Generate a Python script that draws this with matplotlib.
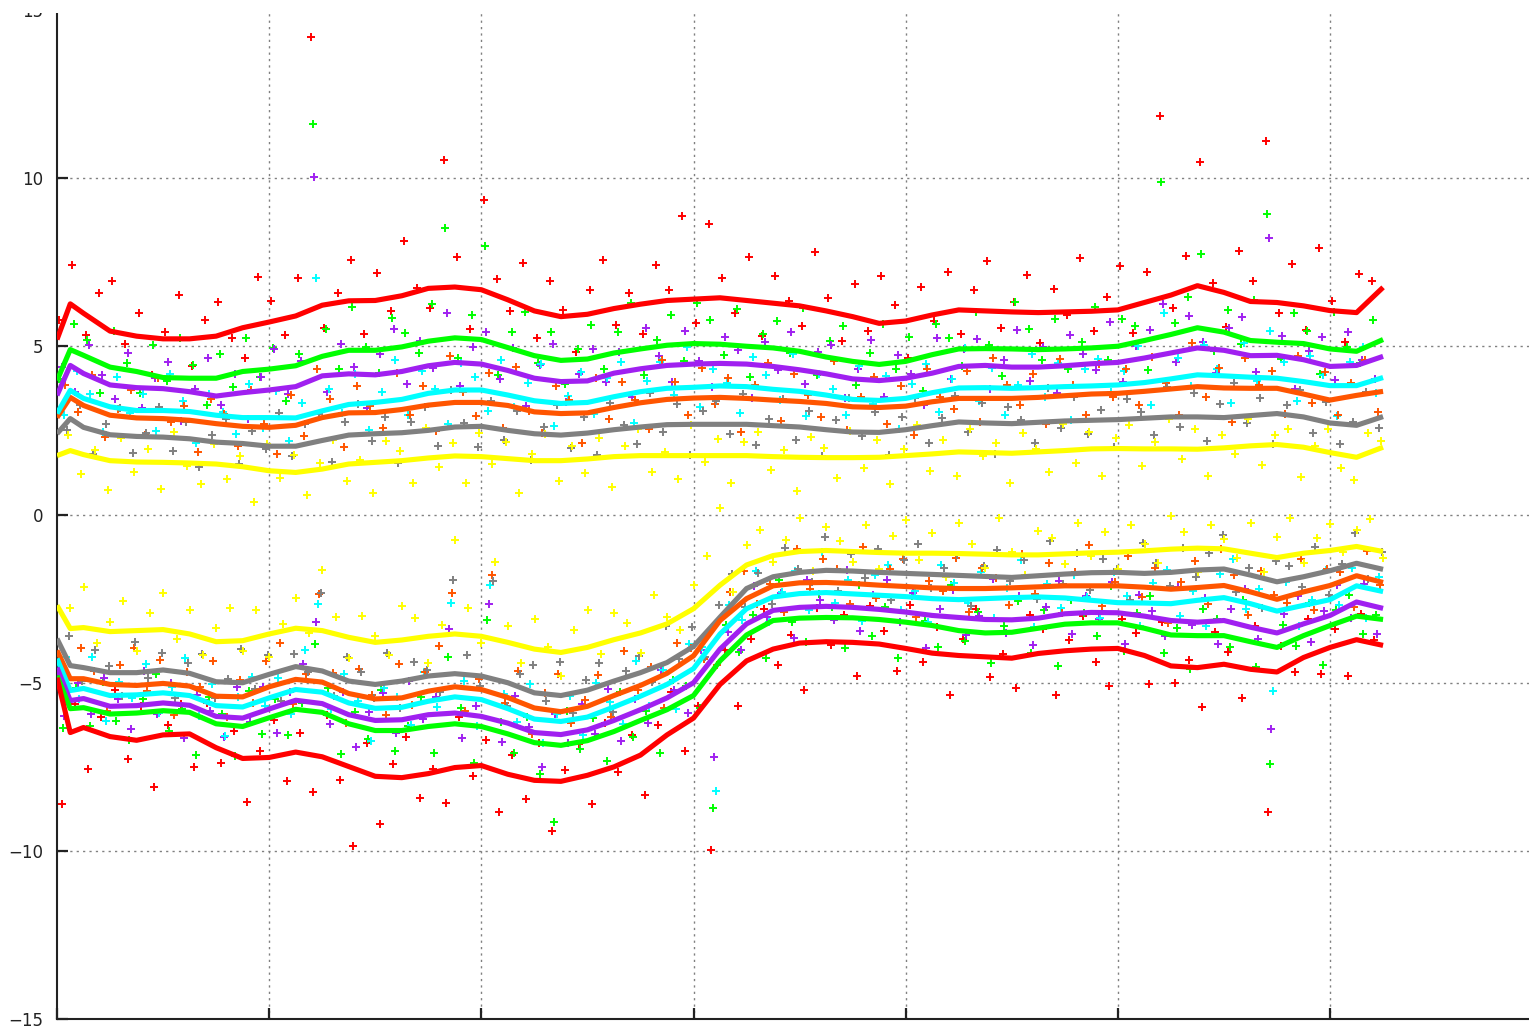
import numpy as np
import matplotlib
matplotlib.use("Agg")
import matplotlib.pyplot as plt
from matplotlib.patches import Rectangle

# ---------------- data ----------------
x_line = np.concatenate(([0.0, 0.0625], np.arange(1, 51) * 0.125))

upper_red = [5.2, 6.26, 5.98, 5.45, 5.3, 5.22, 5.22, 5.3, 5.55, 5.72, 5.9, 6.22, 6.35, 6.36, 6.5, 6.72, 6.76, 6.68,
             6.38, 6.05, 5.88, 5.95, 6.12, 6.25, 6.36, 6.4, 6.44, 6.36, 6.28, 6.2, 6.05, 5.88, 5.68, 5.75, 5.93, 6.08,
             6.05, 6.02, 6.0, 6.02, 6.04, 6.08, 6.3, 6.52, 6.8, 6.6, 6.33, 6.3, 6.2, 6.06, 6.0, 6.75]
upper_green = [3.98, 4.9, 4.73, 4.38, 4.25, 4.07, 4.05, 4.05, 4.25, 4.32, 4.42, 4.7, 4.88, 4.88, 4.98, 5.15, 5.25, 5.2,
               4.96, 4.72, 4.58, 4.62, 4.8, 4.92, 5.03, 5.08, 5.06, 5.0, 4.95, 4.85, 4.68, 4.55, 4.46, 4.55, 4.75, 4.92,
               4.93, 4.92, 4.9, 4.92, 4.95, 5.0, 5.17, 5.35, 5.55, 5.42, 5.17, 5.12, 5.08, 4.92, 4.85, 5.2]
upper_purple = [3.54, 4.43, 4.19, 3.85, 3.77, 3.74, 3.65, 3.52, 3.62, 3.7, 3.8, 4.12, 4.18, 4.15, 4.25, 4.42, 4.52, 4.47,
                4.28, 4.05, 3.95, 3.97, 4.2, 4.33, 4.43, 4.47, 4.49, 4.47, 4.4, 4.3, 4.18, 4.03, 3.98, 4.05, 4.2, 4.4,
                4.43, 4.38, 4.38, 4.42, 4.48, 4.52, 4.65, 4.8, 4.95, 4.88, 4.72, 4.73, 4.6, 4.4, 4.43, 4.7]
upper_cyan = [3.0, 3.69, 3.45, 3.2, 3.09, 3.09, 3.06, 2.95, 2.88, 2.88, 2.87, 3.08, 3.27, 3.33, 3.42, 3.6, 3.7, 3.7,
              3.55, 3.38, 3.3, 3.33, 3.5, 3.65, 3.75, 3.78, 3.82, 3.8, 3.72, 3.66, 3.55, 3.42, 3.39, 3.45, 3.62, 3.76,
              3.77, 3.75, 3.77, 3.8, 3.82, 3.85, 3.92, 4.03, 4.15, 4.12, 4.08, 4.05, 3.95, 3.83, 3.83, 4.07]
upper_orange = [2.88, 3.48, 3.24, 2.95, 2.87, 2.85, 2.8, 2.7, 2.62, 2.59, 2.65, 2.88, 3.02, 3.03, 3.12, 3.25, 3.33, 3.33,
                3.24, 3.05, 3.0, 3.02, 3.18, 3.32, 3.42, 3.46, 3.48, 3.45, 3.4, 3.36, 3.3, 3.2, 3.18, 3.22, 3.35, 3.45,
                3.45, 3.45, 3.48, 3.53, 3.58, 3.6, 3.66, 3.73, 3.8, 3.76, 3.75, 3.75, 3.58, 3.4, 3.54, 3.66]
upper_grey = [2.4, 2.85, 2.59, 2.37, 2.32, 2.3, 2.25, 2.15, 2.11, 2.03, 2.03, 2.2, 2.36, 2.4, 2.43, 2.5, 2.6, 2.62,
              2.5, 2.4, 2.36, 2.42, 2.52, 2.6, 2.67, 2.68, 2.68, 2.68, 2.64, 2.6, 2.52, 2.45, 2.44, 2.52, 2.64, 2.75,
              2.72, 2.7, 2.74, 2.78, 2.8, 2.82, 2.86, 2.9, 2.9, 2.88, 2.94, 3.0, 2.9, 2.72, 2.65, 2.91]
upper_yellow = [1.75, 1.9, 1.78, 1.6, 1.56, 1.55, 1.53, 1.5, 1.42, 1.3, 1.25, 1.35, 1.5, 1.55, 1.6, 1.68, 1.74, 1.72,
                1.66, 1.6, 1.6, 1.65, 1.72, 1.75, 1.75, 1.75, 1.75, 1.75, 1.72, 1.7, 1.69, 1.69, 1.7, 1.75, 1.8, 1.86,
                1.84, 1.82, 1.86, 1.9, 1.95, 1.96, 1.95, 1.95, 1.94, 1.98, 2.04, 2.08, 2.0, 1.84, 1.7, 2.0]

lower_yellow = [-2.7, -3.39, -3.36, -3.48, -3.45, -3.42, -3.55, -3.78, -3.75, -3.55, -3.38, -3.45, -3.65, -3.8, -3.73,
                -3.62, -3.55, -3.62, -3.8, -4.0, -4.1, -3.95, -3.72, -3.52, -3.25, -2.8, -2.1, -1.5, -1.22, -1.1, -1.07,
                -1.1, -1.13, -1.15, -1.15, -1.16, -1.18, -1.2, -1.2, -1.17, -1.14, -1.12, -1.08, -1.03, -1.0, -1.02,
                -1.15, -1.28, -1.15, -1.07, -0.95, -1.1]
lower_grey = [-3.69, -4.49, -4.55, -4.7, -4.7, -4.62, -4.72, -4.97, -5.0, -4.75, -4.52, -4.65, -4.95, -5.05, -4.95, -4.8,
              -4.73, -4.8, -5.0, -5.3, -5.38, -5.22, -4.95, -4.7, -4.4, -3.92, -3.05, -2.2, -1.85, -1.72, -1.66, -1.68,
              -1.72, -1.75, -1.78, -1.81, -1.84, -1.87, -1.82, -1.77, -1.73, -1.72, -1.75, -1.72, -1.65, -1.62, -1.8,
              -2.0, -1.85, -1.67, -1.45, -1.63]
lower_orange = [-4.04, -4.88, -4.88, -5.05, -5.08, -5.02, -5.1, -5.4, -5.42, -5.12, -4.9, -4.98, -5.32, -5.48, -5.45,
                -5.25, -5.12, -5.2, -5.44, -5.75, -5.86, -5.7, -5.38, -5.08, -4.72, -4.2, -3.15, -2.5, -2.12, -2.03,
                -2.02, -2.05, -2.1, -2.14, -2.18, -2.2, -2.2, -2.18, -2.15, -2.12, -2.12, -2.12, -2.16, -2.22, -2.17,
                -2.11, -2.3, -2.52, -2.3, -2.11, -1.82, -2.02]
lower_cyan = [-4.28, -5.23, -5.17, -5.38, -5.36, -5.3, -5.38, -5.68, -5.72, -5.45, -5.2, -5.28, -5.6, -5.76, -5.73,
              -5.55, -5.42, -5.5, -5.77, -6.08, -6.15, -6.02, -5.72, -5.4, -5.05, -4.58, -3.55, -2.8, -2.45, -2.35,
              -2.32, -2.36, -2.4, -2.44, -2.5, -2.53, -2.5, -2.47, -2.45, -2.48, -2.55, -2.62, -2.63, -2.65, -2.55,
              -2.47, -2.65, -2.87, -2.7, -2.53, -2.12, -2.29]
lower_purple = [-4.55, -5.53, -5.47, -5.7, -5.68, -5.6, -5.67, -6.0, -6.05, -5.78, -5.52, -5.62, -5.95, -6.12, -6.1,
                -5.95, -5.9, -6.0, -6.2, -6.48, -6.54, -6.4, -6.12, -5.8, -5.45, -5.0, -4.0, -3.25, -2.85, -2.76, -2.73,
                -2.76, -2.82, -2.9, -3.0, -3.06, -3.12, -3.13, -3.08, -2.95, -2.91, -2.92, -3.02, -3.15, -3.2, -3.15,
                -3.35, -3.52, -3.25, -3.0, -2.6, -2.79]
lower_green = [-4.79, -5.77, -5.74, -5.93, -5.9, -5.83, -5.88, -6.22, -6.3, -6.04, -5.79, -5.88, -6.22, -6.42, -6.42,
               -6.3, -6.22, -6.3, -6.52, -6.78, -6.86, -6.72, -6.45, -6.12, -5.8, -5.38, -4.35, -3.58, -3.15, -3.08,
               -3.06, -3.07, -3.12, -3.2, -3.3, -3.45, -3.52, -3.5, -3.38, -3.26, -3.22, -3.22, -3.38, -3.58, -3.6,
               -3.6, -3.78, -3.95, -3.6, -3.3, -3.02, -3.12]
lower_red = [-4.85, -6.48, -6.33, -6.6, -6.71, -6.55, -6.52, -6.93, -7.25, -7.22, -7.06, -7.2, -7.49, -7.78, -7.82,
             -7.7, -7.52, -7.46, -7.72, -7.9, -7.93, -7.75, -7.5, -7.15, -6.55, -6.05, -5.05, -4.35, -4.0, -3.82,
             -3.78, -3.8, -3.85, -3.98, -4.12, -4.19, -4.23, -4.27, -4.13, -4.05, -4.0, -3.98, -4.19, -4.5, -4.55,
             -4.45, -4.6, -4.68, -4.25, -3.95, -3.72, -3.89]

# scatter samples: x positions and deviations from the trend line (tenths of a unit)
x_pts = 0.03125 + np.arange(100) * 0.0625

res_up_red = [4, 12, -6, 9, 15, -3, 7, -11, 2, 13, -8, 5, 10, -2, -9, 14, 6, -5, 11, 81,
              -7, 3, 12, -10, 8, -4, 16, 1, -6, 38, 9, -12, 27, 5, -3, 13, -8, 10, 2, -11,
              7, 15, -5, 4, -9, 11, 3, 25, -7, 22, 6, -4, 13, -10, 8, 1, -6, 17, 4, -8,
              10, -3, 14, 5, -11, 9, -2, 12, -7, 6, 15, -5, 3, 11, -9, 7, -1, 16, -6, 4,
              13, -8, 9, 54, -4, 10, 37, 2, -10, 14, 6, 48, -3, 12, -7, 18, 3, -9, 11, 5]
res_up_green = [-3, 8, 5, -9, 11, 2, -6, 9, -1, 12, 4, -8, 7, -4, 10, -2, 6, -10, 3, 70,
                8, -5, 13, 1, -7, 9, 4, -3, 11, 33, -6, 7, 28, -9, 5, 12, -2, 8, -7, 3,
                10, -4, 6, 14, -8, 2, 9, -5, 12, 7, -3, 11, -9, 4, 8, -1, 13, -6, 5, 10,
                -7, 3, 12, -2, 7, -10, 9, 4, -5, 11, 1, -8, 14, 6, -3, 9, -6, 2, 12, -4,
                8, 5, -9, 46, 3, 10, 22, -6, 7, -2, 12, 38, -5, 9, 4, -8, 11, 1, -4, 7]
res_up_purple = [5, -7, 9, 2, -4, 10, -6, 3, 8, -9, 1, 11, -3, 6, -8, 4, 12, -2, 7, 60,
                 -5, 9, 2, -10, 6, 13, -4, 8, -1, 15, -7, 5, 10, -3, 7, -9, 4, 11, -6, 2,
                 9, -2, 6, -8, 12, 3, -5, 10, 1, -7, 8, 4, -10, 7, -1, 11, -4, 6, 9, -6,
                 3, 12, -5, 7, 1, -9, 10, -3, 5, 8, -7, 2, 11, -4, 6, -8, 9, 3, -2, 12,
                 -6, 4, 8, 15, -3, 10, 2, -7, 7, 11, -5, 35, 6, -9, 3, 8, -4, 10, 1, -6]
res_up_cyan = [-4, 7, 2, -8, 9, -1, 5, -6, 11, 3, -9, 6, 1, -5, 10, -3, 8, -7, 4, 40,
               6, -2, 9, -8, 3, 12, -5, 7, 1, -10, 8, 4, -6, 10, -3, 5, 11, -7, 2, 9,
               -4, 6, 10, -9, 3, 8, -2, 12, -6, 5, 1, -8, 9, 4, -3, 11, -7, 6, 2, -5,
               10, -1, 7, -9, 4, 9, -6, 3, 12, -4, 6, -8, 1, 10, -3, 7, -10, 5, 8, -2,
               4, 11, -7, 20, 6, -3, 9, 2, -8, 10, -1, 14, 5, -6, 8, 3, -9, 7, 11, -4]
res_up_orange = [6, -3, 10, -7, 2, 8, -5, 12, -1, 4, -9, 7, 3, -6, 11, 1, -8, 9, -4, 15,
                 5, -10, 8, 2, -5, 11, -2, 6, -8, 14, 3, -4, 9, -7, 12, 0, -6, 8, 4, -9,
                 10, -3, 7, 1, -8, 12, 5, -5, 9, -2, 6, -10, 4, 11, -6, 8, 2, -4, 13, -7,
                 3, 9, -5, 6, -9, 10, 1, -3, 8, -7, 12, 4, -2, 7, -8, 11, 3, -6, 9, -1,
                 7, -4, 10, 2, -8, 13, -3, 6, -10, 9, 1, 5, -7, 11, -2, 8, -5, 4, 10, -6]
res_up_grey = [-2, 6, -7, 3, 8, -5, 1, 9, -4, 5, -8, 2, 7, -6, 4, -1, 10, -3, 6, 8,
               -7, 4, 9, -2, 5, -9, 3, 7, -5, 11, 1, -6, 8, -3, 6, -8, 2, 9, -4, 5,
               -7, 8, 1, -5, 10, -2, 6, -9, 4, 7, -3, 9, -6, 2, 8, -4, 5, -8, 3, 10,
               -1, 6, -7, 4, 9, -5, 2, 8, -3, 6, -9, 5, 1, -6, 10, -2, 7, -4, 3, -8,
               6, 2, -5, 9, -3, 7, -7, 4, 10, -2, 5, -9, 3, 8, -4, 6, -6, 1, 9, -3]
res_up_yellow = [5, -6, 2, -9, 7, -3, 4, -8, 9, -1, -6, 6, -4, 3, -10, 8, -2, 5, -7, 2,
                 8, -5, 1, -9, 6, 3, -7, 9, -3, 4, -8, 7, -2, 5, -10, 2, 8, -6, 4, -4,
                 6, -9, 3, 8, -5, 1, -7, 9, -2, 5, -8, 4, 7, -4, 2, -10, 6, 3, -6, 8,
                 -3, 5, -8, 2, 9, -5, 4, -7, 7, -1, 3, -9, 6, 1, -6, 8, -4, 5, -8, 3,
                 7, -5, 2, 9, -3, 6, -8, 4, -2, 8, -6, 3, 5, -9, 1, 7, -4, -7, 6, 2]

res_low_yellow = [6, 12, -4, 3, 9, -6, 5, 11, -2, 7, -5, 4, 10, -3, 8, -7, 2, 9, -1, 18,
                  5, -6, 7, 2, -4, 10, 6, -8, 3, 28, 8, -2, 23, 5, -5, 9, 1, -7, 6, 11,
                  -3, 8, 4, -6, 10, 2, -4, 7, 12, 23, -5, 6, 9, -2, 4, 10, -6, 7, 3, -3,
                  8, -5, 5, 10, -2, 6, -7, 9, 3, -4, 11, 1, -6, 7, 5, -3, 9, -1, 6, -5,
                  8, 2, -4, 10, 5, -7, 7, 3, -2, 9, -5, 6, 11, -3, 4, 8, -1, 5, 9, -2]
res_low_grey = [8, -4, 6, 2, -7, 9, -2, 5, -8, 3, 7, -5, 1, 10, -3, 6, -9, 4, -1, 23,
                -6, 7, 3, -4, 9, -8, 5, 2, -5, 28, 6, -3, 29, -7, 4, 8, -2, 10, -6, 3,
                7, -9, 2, 5, -4, 11, -1, 6, -7, 4, 9, -5, 3, -8, 8, 1, -3, 10, -6, 5,
                -2, 7, -8, 4, 9, -4, 2, 6, -9, 3, 8, -1, 5, -7, 10, -3, 6, -5, 4, 1,
                -8, 9, 3, -4, 7, -2, 5, 10, -6, 2, -9, 6, 4, -3, 8, -7, 1, 9, -4, 5]
res_low_orange = [-5, 9, 3, -8, 6, 11, -2, 7, -9, 4, 1, 10, -6, 5, -3, 8, 12, -7, 2, 26,
                  4, -9, 8, 1, -5, 10, -3, 6, 13, 28, -7, 3, 35, -2, 9, -8, 5, 11, -4, 2,
                  8, -6, 12, -1, 4, -10, 7, 3, -5, -12, 6, 9, -3, 1, -8, 10, -2, 7, 4, -6,
                  11, -4, 5, 8, -9, 2, -1, 9, -7, 6, 3, -5, 10, -2, 7, -8, 4, 12, -6, 1,
                  9, -3, 6, -10, 2, 8, -5, 11, 4, -7, 7, 1, -2, 10, -6, 5, 3, -9, 8, -1]
res_low_cyan = [7, -3, 10, -8, 4, -1, 9, -6, 2, 11, -5, 6, -9, 3, 8, -2, 5, -7, 12, 26,
                -4, 8, 1, -10, 6, 3, -6, 9, -2, 28, 5, -8, 35, 4, -3, 10, -7, 2, 7, -5,
                9, 2, -6, 11, -4, 5, -9, 8, 3, -45, 6, -2, 10, -7, 1, 7, -5, 12, -3, 4,
                -8, 6, 9, -4, 2, -7, 10, 5, -1, 8, -6, 3, 11, -9, 4, -3, 7, 1, -5, 9,
                2, -7, 6, 10, -4, 3, -8, 7, 12, -2, 5, -24, 8, -6, 1, 9, -3, 6, -9, 4]
res_low_purple = [-9, 5, -4, 8, 2, -7, 10, -3, 6, -10, 4, 1, -6, 9, -2, 7, -8, 3, 11, 24,
                  -5, 6, -9, 2, 8, -4, 11, -1, 5, 25, -7, 3, 34, -6, 9, 1, -10, 6, -3, 8,
                  -2, 10, -7, 4, -5, 9, 1, -8, 7, -30, 3, -6, 10, -1, 5, -9, 8, 2, -4, 11,
                  -7, 4, 9, -3, 6, -10, 2, 8, -5, 1, 12, -4, 7, -8, 3, 10, -6, 5, -2, 9,
                  -9, 6, 2, -5, 10, -1, 7, -7, 4, 11, -3, -29, 5, 9, -6, 2, 8, -4, 6, -8]
res_low_green = [-11, 6, -5, 9, -2, -8, 4, 11, -6, 1, -12, 7, 3, -9, 10, -4, 5, -7, 2, 20,
                 8, -10, 4, -3, 12, -6, 1, 9, -8, 20, 5, -11, 32, 3, -5, 7, -9, -23, 10, -2,
                 6, -8, 11, -4, 2, -12, 8, 4, -6, -41, 9, -3, 5, -10, 12, -1, -7, 7, 3, -9,
                 10, -5, 4, -11, 8, 1, -6, 13, -3, 6, -9, 2, 9, -7, 5, -12, 7, 3, -4, 11,
                 -8, 4, 10, -6, 2, -10, 8, 5, -3, 12, -7, -35, 6, -2, 9, -11, 4, 7, -5, 1]
res_low_red = [-32, 8, -12, 5, 14, -6, 10, -15, 3, 9, -9, 12, -4, 7, -13, 2, 11, -8, 6, -11,
               13, -5, -23, 9, -14, 4, 12, -7, 1, -10, 15, -3, 8, -12, 6, -6, 11, -15, 3, 10,
               -9, 14, -2, 7, -13, 5, 12, -8, 2, -46, 9, -11, 6, 13, -5, 3, -14, 10, -1, 8,
               -10, 11, 4, -7, 13, -3, 8, -12, 5, 14, -6, 1, -9, 12, 7, -13, 3, 10, -4, -11,
               9, 6, -8, 12, -5, 2, -12, 10, 4, -9, 13, -42, 7, -3, 11, -7, 5, -10, 8, 1]

y_ticks = [-15, -10, -5, 0, 5, 10, 15]
x_ticks = [0, 1, 2, 3, 4, 5, 6, 7]

# ---------------- styling ----------------
RED, GREEN, PURPLE, CYAN = "#ff0000", "#00ff00", "#a020f0", "#00ffff"
ORANGE, GREY, YELLOW = "#ff5500", "#808080", "#ffff00"

upper = [(upper_red, res_up_red, RED), (upper_green, res_up_green, GREEN),
         (upper_purple, res_up_purple, PURPLE), (upper_cyan, res_up_cyan, CYAN),
         (upper_orange, res_up_orange, ORANGE), (upper_grey, res_up_grey, GREY),
         (upper_yellow, res_up_yellow, YELLOW)]
lower = [(lower_red, res_low_red, RED), (lower_green, res_low_green, GREEN),
         (lower_purple, res_low_purple, PURPLE), (lower_cyan, res_low_cyan, CYAN),
         (lower_orange, res_low_orange, ORANGE), (lower_grey, res_low_grey, GREY),
         (lower_yellow, res_low_yellow, YELLOW)]

for line, res, _ in upper + lower:
    assert len(line) == len(x_line), len(line)
    assert len(res) == len(x_pts), len(res)

W, H = 1529, 1028
fig = plt.figure(figsize=(W / 100, H / 100), dpi=100)
fig.patch.set_facecolor("white")
left_px, bottom_px = 57, 1019.25
unit_x = 212.17
top_px = 9.75
ax = fig.add_axes([left_px / W, (H - bottom_px) / H, 7 * unit_x / W, (bottom_px - top_px) / H])

ax.set_xlim(0, 7)
ax.set_ylim(-15, 15)

offsets = [-0.021, -0.014, -0.007, 0.0, 0.007, 0.014, 0.021]
for group, shift in ((upper, 0.0), (lower, 0.011)):
    for i, (line, res, col) in enumerate(group):
        xs = x_pts + offsets[i] + shift
        ys = np.interp(xs, x_line, line) + np.asarray(res) * 0.1
        ax.plot(xs, ys, linestyle="none", marker="+", color=col, markersize=5.5,
                markeredgewidth=1.4, zorder=2, clip_on=True)

for group in (lower, upper):
    for line, res, col in reversed(group):
        ax.plot(x_line, line, color=col, linewidth=3.7, zorder=3,
                solid_joinstyle="round", solid_capstyle="butt")

ax.set_yticks(y_ticks)
ax.set_yticklabels([str(v) if v >= 0 else "\u2212" + str(-v) for v in y_ticks])
ax.set_xticks(x_ticks)
ax.tick_params(axis="y", direction="in", length=8, width=1.6, color="#222222",
               labelsize=12, labelcolor="#222222", pad=10)
ax.tick_params(axis="x", direction="in", length=8, width=1.6, color="#222222",
               labelbottom=False)

# dotted grid
for yv in [-10, -5, 0, 5, 10]:
    ax.axhline(yv, color="#808080", linewidth=1.0, dashes=(1.6, 3.0), zorder=1)
for xv in [1, 2, 3, 4, 5, 6]:
    ax.axvline(xv, color="#808080", linewidth=1.0, dashes=(1.6, 3.0), zorder=1)

for side in ("top", "right"):
    ax.spines[side].set_visible(False)
for side in ("left", "bottom"):
    ax.spines[side].set_color("#222222")
    ax.spines[side].set_linewidth(1.5)

# the top strip of the original image is blank
fig.add_artist(Rectangle((0, 1 - 13 / H), 1, 13 / H, transform=fig.transFigure,
                         facecolor="white", edgecolor="none", zorder=100))

fig.savefig("out.png", dpi=100)
